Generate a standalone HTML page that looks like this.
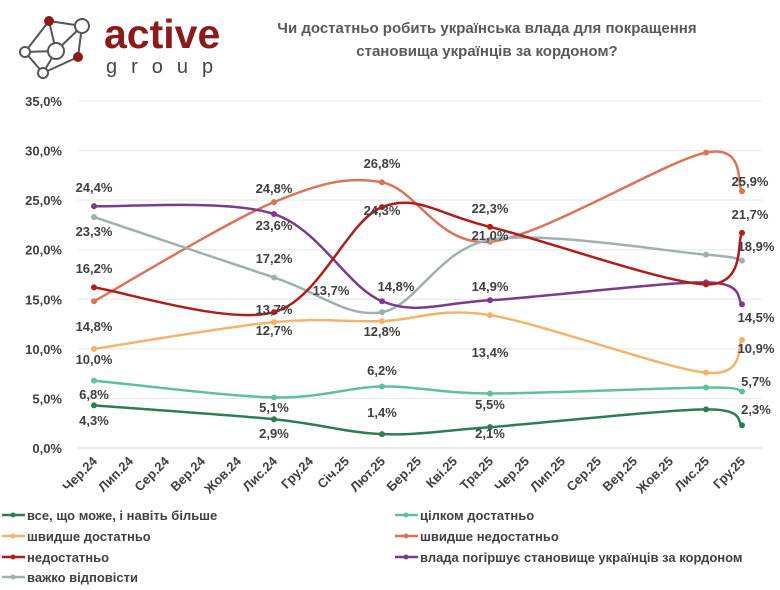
<!DOCTYPE html>
<html><head><meta charset="utf-8"><style>
body{margin:0;background:#fff;width:780px;height:585px;overflow:hidden;font-family:"Liberation Sans","DejaVu Sans",sans-serif}
</style></head><body>
<svg id="s" width="780" height="585" xmlns="http://www.w3.org/2000/svg" font-family="Liberation Sans, DejaVu Sans, sans-serif">
<rect width="780" height="585" fill="#fff"/>
<g stroke="#555" stroke-width="2" fill="#fff">
<line x1="49" y1="21" x2="82" y2="26"/><line x1="49" y1="21" x2="25" y2="52"/><line x1="49" y1="21" x2="56" y2="51"/>
<line x1="82" y1="26" x2="78" y2="57"/><line x1="82" y1="26" x2="56" y2="51"/><line x1="25" y1="52" x2="56" y2="51"/>
<line x1="25" y1="52" x2="43" y2="73"/><line x1="56" y1="51" x2="43" y2="73"/><line x1="78" y1="57" x2="43" y2="73"/>
<circle cx="82" cy="26" r="7"/><circle cx="25" cy="52" r="5"/><circle cx="56" cy="51" r="8"/><circle cx="43" cy="73" r="5"/>
<circle cx="49" cy="21" r="5" fill="#8b1a1a" stroke="none"/><circle cx="78" cy="57" r="5" fill="#8b1a1a" stroke="none"/>
</g>
<text x="104" y="48" font-size="41" font-weight="bold" fill="#8b1a1a">active</text>
<text x="106" y="73" font-size="20" fill="#444" letter-spacing="14">group</text>
<text x="487" y="33" font-size="15" font-weight="bold" fill="#595959" text-anchor="middle">Чи достатньо робить українська влада для покращення</text>
<text x="487" y="56" font-size="15" font-weight="bold" fill="#595959" text-anchor="middle">становища українців за кордоном?</text>
<g id="grid"></g><g id="lines"></g><g id="lbl" font-size="13" font-weight="bold" fill="#404040" text-anchor="middle"></g>
<g font-size="13" font-weight="bold" fill="#404040">
<line x1="2" y1="515" x2="25" y2="515" stroke="#2e7d4f" stroke-width="2.5"/><circle cx="13" cy="515" r="2.5" fill="#2e7d4f"/><text x="27" y="520">все, що може, і навіть більше</text>
<line x1="2" y1="536" x2="25" y2="536" stroke="#f4b36b" stroke-width="2.5"/><circle cx="13" cy="536" r="2.5" fill="#f4b36b"/><text x="27" y="541">швидше достатньо</text>
<line x1="2" y1="557" x2="25" y2="557" stroke="#b01c1c" stroke-width="2.5"/><circle cx="13" cy="557" r="2.5" fill="#b01c1c"/><text x="27" y="562">недостатньо</text>
<line x1="2" y1="577" x2="25" y2="577" stroke="#9fb0b0" stroke-width="2.5"/><circle cx="13" cy="577" r="2.5" fill="#9fb0b0"/><text x="27" y="582">важко відповісти</text>
<line x1="395" y1="515" x2="418" y2="515" stroke="#5fc19a" stroke-width="2.5"/><circle cx="406" cy="515" r="2.5" fill="#5fc19a"/><text x="420" y="520">цілком достатньо</text>
<line x1="395" y1="536" x2="418" y2="536" stroke="#d9735a" stroke-width="2.5"/><circle cx="406" cy="536" r="2.5" fill="#d9735a"/><text x="420" y="541">швидше недостатньо</text>
<line x1="395" y1="557" x2="418" y2="557" stroke="#7a3b8a" stroke-width="2.5"/><circle cx="406" cy="557" r="2.5" fill="#7a3b8a"/><text x="420" y="562">влада погіршує становище українців за кордоном</text>
</g>
</svg>
<script>
var NS="http://www.w3.org/2000/svg";
function el(p,t,a,txt){var e=document.createElementNS(NS,t);for(var k in a)e.setAttribute(k,a[k]);if(txt!=null)e.textContent=txt;p.appendChild(e);return e;}
function Y(v){return 448-v*9.914;}
var g=document.getElementById('grid');
for(var i=0;i<=7;i++){var y=Y(i*5);
 if(i>0)el(g,'line',{x1:78,x2:762,y1:y,y2:y,stroke:'#e6e6e6','stroke-width':1});
 el(g,'text',{x:62,y:y+5,'font-size':13,'font-weight':'bold',fill:'#404040','text-anchor':'end'},(i*5).toFixed(1).replace('.',',')+'%');}
el(g,'line',{x1:78,x2:762,y1:448,y2:448,stroke:'#ccc','stroke-width':1});
var cats=['Чер.24','Лип.24','Сер.24','Вер.24','Жов.24','Лис.24','Гру.24','Січ.25','Лют.25','Бер.25','Кві.25','Тра.25','Чер.25','Лип.25','Сер.25','Вер.25','Жов.25','Лис.25','Гру.25'];
cats.forEach(function(c,i){var x=94+36*i;el(g,'text',{x:0,y:0,'font-size':13,'font-weight':'bold',fill:'#404040','text-anchor':'end',transform:'translate('+(x+4)+',462) rotate(-45)'},c);});
var X=[94,274,382,490,706,742];
var S=[
['#2e7d4f',[4.3,2.9,1.4,2.1,3.9,2.3]],
['#5fc19a',[6.8,5.1,6.2,5.5,6.1,5.7]],
['#f4b36b',[10.0,12.7,12.8,13.4,7.6,10.9]],
['#d9735a',[14.8,24.8,26.8,20.8,29.8,25.9]],
['#9fb0b0',[23.3,17.2,13.7,21.0,19.5,18.9]],
['#7a3b8a',[24.4,23.6,14.8,14.9,16.7,14.5]],
['#b01c1c',[16.2,13.7,24.3,22.3,16.5,21.7]]];
var L=document.getElementById('lines');
S.forEach(function(s){var p=X.map(function(x,i){return [x,Y(s[1][i])];});
 var d='M'+p[0][0]+','+p[0][1];
 for(var i=0;i<p.length-1;i++){var p0=p[i-1]||p[i],p1=p[i],p2=p[i+1],p3=p[i+2]||p2;var t=0.16;
  var c1=[p1[0]+(p2[0]-p0[0])*t,p1[1]+(p2[1]-p0[1])*t],c2=[p2[0]-(p3[0]-p1[0])*t,p2[1]-(p3[1]-p1[1])*t];
  d+=' C'+c1+' '+c2+' '+p2;}
 el(L,'path',{d:d,fill:'none',stroke:s[0],'stroke-width':2.5});
 p.forEach(function(q){el(L,'circle',{cx:q[0],cy:q[1],r:3,fill:s[0]});});});
var lb=document.getElementById('lbl');
[[94,192,'24,4%'],[94,236,'23,3%'],[94,273,'16,2%'],[94,331,'14,8%'],[94,364,'10,0%'],[94,399,'6,8%'],[94,425,'4,3%'],
[274,193,'24,8%'],[274,230,'23,6%'],[274,263,'17,2%'],[274,314,'13,7%'],[274,335,'12,7%'],[274,412,'5,1%'],[274,438,'2,9%'],
[382,168,'26,8%'],[382,215,'24,3%'],[331,295,'13,7%'],[396,291,'14,8%'],[382,336,'12,8%'],[382,375,'6,2%'],[382,417,'1,4%'],
[490,213,'22,3%'],[490,240,'21,0%'],[490,291,'14,9%'],[490,357,'13,4%'],[490,409,'5,5%'],[490,438,'2,1%'],
[750,186,'25,9%'],[750,219,'21,7%'],[756,251,'18,9%'],[756,322,'14,5%'],[756,353,'10,9%'],[756,386,'5,7%'],[756,414,'2,3%']
].forEach(function(a){el(lb,'text',{x:a[0],y:a[1]},a[2]);});
</script>
</body></html>
